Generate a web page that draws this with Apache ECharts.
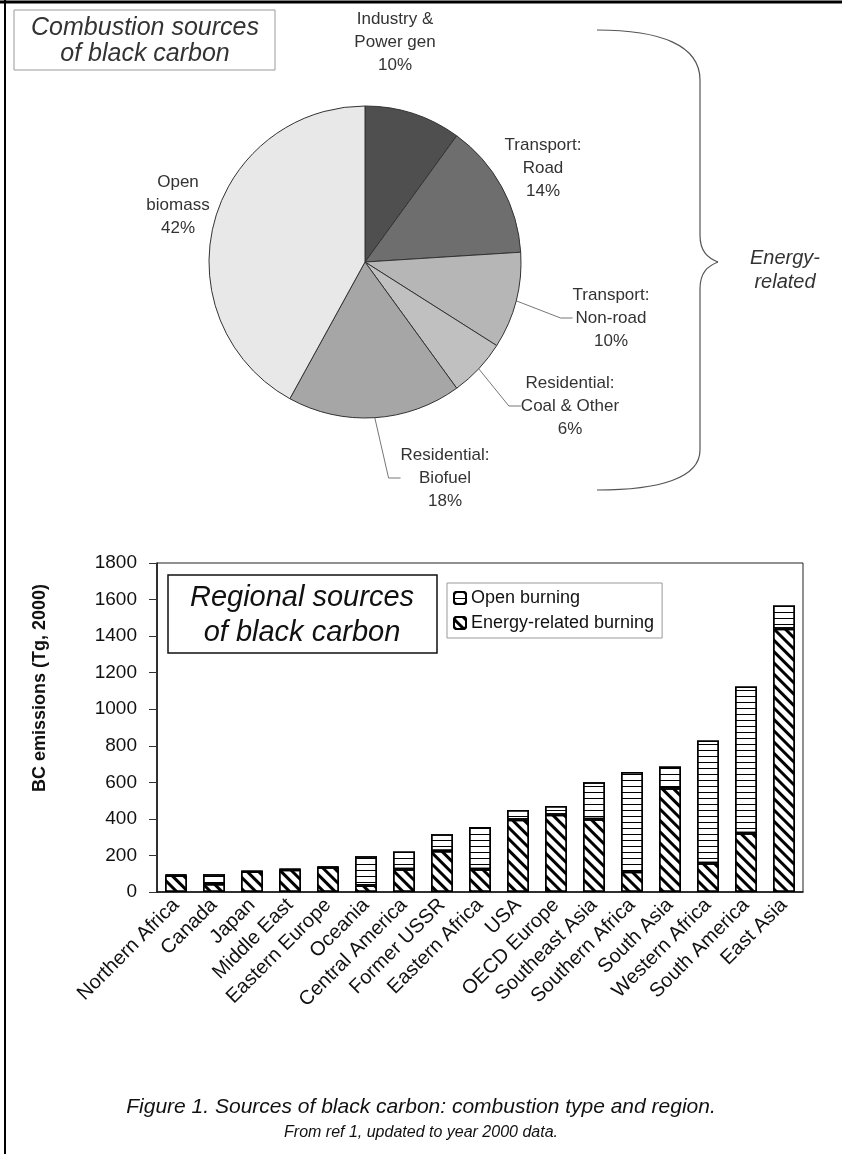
<!DOCTYPE html>
<html>
<head>
<meta charset="utf-8">
<script src="https://cdn.jsdelivr.net/npm/echarts@6/dist/echarts.min.js"></script>
<style>
  html, body { margin: 0; padding: 0; background: #fff; }
  #chart { width: 842px; height: 1154px; }
</style>
</head>
<body>
<div id="chart"></div>
<script>
// pie: combustion sources (percent shares, clockwise from 12 o'clock)
const pieNames = ['Industry &\nPower gen', 'Transport:\nRoad', 'Transport:\nNon-road', 'Residential:\nCoal & Other', 'Residential:\nBiofuel', 'Open\nbiomass'];
const pieShares = [10, 14, 10, 6, 18, 42];

// bars: regional sources
const regions = ['Northern Africa', 'Canada', 'Japan', 'Middle East', 'Eastern Europe', 'Oceania', 'Central America', 'Former USSR', 'Eastern Africa', 'USA', 'OECD Europe', 'Southeast Asia', 'Southern Africa', 'South Asia', 'Western Africa', 'South America', 'East Asia'];
const energyBurning = [90, 44, 112, 122, 135, 35, 124, 225, 124, 395, 422, 398, 111, 568, 157, 321, 1440];
const openBurning = [5, 53, 3, 4, 4, 160, 97, 91, 231, 54, 49, 203, 545, 119, 672, 804, 127];
const yMin = 0, yMax = 1800, yStep = 200;

const FONT = 'Liberation Sans, Arial, sans-serif';
const pieColors = ['#4f4f4f', '#6e6e6e', '#b6b6b6', '#c0c0c0', '#a6a6a6', '#e8e8e8'];
const pieLabelPos = [[395, 42], [543, 168], [611, 318], [570, 406], [445, 478], [178, 205]];
const pieLeader = [false, false, true, true, true, false];

const chart = echarts.init(document.getElementById('chart'), null, { renderer: 'canvas' });

// "\\\\" hatching for energy-related, thin horizontal rules for open burning
const hatch = {
  symbol: 'rect', symbolSize: 1, color: '#000',
  dashArrayX: [1, 0], dashArrayY: [3, 5], rotation: Math.PI / 4
};
const stripes = {
  symbol: 'rect', symbolSize: 1, color: '#000',
  dashArrayX: [1, 0], dashArrayY: [1, 5], rotation: 0
};

const braceStyle = { fill: 'none', stroke: '#555', lineWidth: 1.2 };

chart.setOption({
  animation: false,
  backgroundColor: '#fff',
  textStyle: { fontFamily: FONT },
  grid: {
    left: 157, right: 39, top: 563, bottom: 262,
    show: true, borderColor: '#222', borderWidth: 1, backgroundColor: 'transparent'
  },
  legend: {
    data: ['Open burning', 'Energy-related burning'],
    orient: 'vertical',
    left: 447, top: 583,
    padding: [6, 8, 6, 6],
    itemGap: 7, itemWidth: 12, itemHeight: 12,
    borderColor: '#999', borderWidth: 1,
    textStyle: { fontSize: 18, color: '#111', fontFamily: FONT },
    selectedMode: false
  },
  xAxis: {
    type: 'category',
    data: regions,
    axisLine: { lineStyle: { color: '#111', width: 1.5 } },
    axisTick: { length: 6, lineStyle: { color: '#333' } },
    axisLabel: { rotate: 45, fontSize: 20, color: '#111', margin: 10, interval: 0 }
  },
  yAxis: {
    type: 'value',
    min: yMin, max: yMax, interval: yStep,
    axisLine: { show: true, lineStyle: { color: '#111', width: 1.5 } },
    axisTick: { show: true, length: 8, lineStyle: { color: '#333' } },
    axisLabel: { fontSize: 19, color: '#111', margin: 20, formatter: (v) => String(v) },
    splitLine: { show: false }
  },
  series: [
    {
      name: 'Energy-related burning',
      type: 'bar', stack: 'bc', barWidth: 22,
      data: energyBurning,
      itemStyle: { color: '#fff', borderColor: '#000', borderWidth: 1.5, decal: hatch }
    },
    {
      name: 'Open burning',
      type: 'bar', stack: 'bc', barWidth: 22,
      data: openBurning,
      itemStyle: { color: '#fff', borderColor: '#000', borderWidth: 1.5, decal: stripes }
    },
    {
      name: 'Combustion sources',
      type: 'pie',
      center: [365, 262], radius: 156,
      startAngle: 90, clockwise: true,
      data: pieNames.map((n, i) => ({
        name: n, value: pieShares[i],
        itemStyle: { color: pieColors[i] },
        labelLine: { show: pieLeader[i] }
      })),
      itemStyle: { borderColor: '#333', borderWidth: 1 },
      label: {
        position: 'outside', formatter: '{b}\n{c}%',
        fontSize: 17, lineHeight: 23, color: '#333', align: 'center'
      },
      labelLine: { length: 12, length2: 12, lineStyle: { color: '#777', width: 1 } },
      labelLayout: (p) => ({
        x: pieLabelPos[p.dataIndex][0], y: pieLabelPos[p.dataIndex][1],
        align: 'center', verticalAlign: 'middle'
      }),
      emphasis: { disabled: true }
    }
  ],
  graphic: [
    // page frame
    { type: 'line', shape: { x1: 0, y1: 2, x2: 842, y2: 2 }, style: { stroke: '#000', lineWidth: 3 } },
    { type: 'line', shape: { x1: 5, y1: 0, x2: 5, y2: 1154 }, style: { stroke: '#000', lineWidth: 2 } },
    // pie title box
    { type: 'rect', shape: { x: 14, y: 10, width: 261, height: 60 }, style: { fill: '#fff', stroke: '#999', lineWidth: 1 } },
    { type: 'text', x: 145, y: 28, style: { text: 'Combustion sources', font: 'italic 25px ' + FONT, fill: '#333', align: 'center', verticalAlign: 'middle' } },
    { type: 'text', x: 145, y: 54, style: { text: 'of black carbon', font: 'italic 25px ' + FONT, fill: '#333', align: 'center', verticalAlign: 'middle' } },
    // brace for energy-related slices
    { type: 'bezierCurve', shape: { x1: 597, y1: 30, cpx1: 660, cpy1: 30, cpx2: 700, cpy2: 45, x2: 700, y2: 80 }, style: braceStyle },
    { type: 'line', shape: { x1: 700, y1: 80, x2: 700, y2: 235 }, style: braceStyle },
    { type: 'bezierCurve', shape: { x1: 700, y1: 235, cpx1: 700, cpy1: 252, cpx2: 708, cpy2: 258, x2: 718, y2: 262 }, style: braceStyle },
    { type: 'bezierCurve', shape: { x1: 718, y1: 262, cpx1: 708, cpy1: 266, cpx2: 700, cpy2: 272, x2: 700, y2: 289 }, style: braceStyle },
    { type: 'line', shape: { x1: 700, y1: 289, x2: 700, y2: 450 }, style: braceStyle },
    { type: 'bezierCurve', shape: { x1: 700, y1: 450, cpx1: 700, cpy1: 478, cpx2: 660, cpy2: 490, x2: 597, y2: 490 }, style: braceStyle },
    { type: 'text', x: 785, y: 258, style: { text: 'Energy-', font: 'italic 20px ' + FONT, fill: '#333', align: 'center', verticalAlign: 'middle' } },
    { type: 'text', x: 785, y: 282, style: { text: 'related', font: 'italic 20px ' + FONT, fill: '#333', align: 'center', verticalAlign: 'middle' } },
    // bar chart title box
    { type: 'rect', shape: { x: 168, y: 575, width: 269, height: 78 }, style: { fill: '#fff', stroke: '#111', lineWidth: 1.5 } },
    { type: 'text', x: 302, y: 598, style: { text: 'Regional sources', font: 'italic 29px ' + FONT, fill: '#111', align: 'center', verticalAlign: 'middle' } },
    { type: 'text', x: 302, y: 633, style: { text: 'of black carbon', font: 'italic 29px ' + FONT, fill: '#111', align: 'center', verticalAlign: 'middle' } },
    // y axis name
    { type: 'text', x: 40, y: 688, rotation: Math.PI / 2, style: { text: 'BC emissions (Tg, 2000)', font: 'bold 18px ' + FONT, fill: '#111', align: 'center', verticalAlign: 'middle' } },
    // caption
    { type: 'text', x: 421, y: 1107, style: { text: 'Figure 1. Sources of black carbon: combustion type and region.', font: 'italic 21px ' + FONT, fill: '#111', align: 'center', verticalAlign: 'middle' } },
    { type: 'text', x: 421, y: 1133, style: { text: 'From ref 1, updated to year 2000 data.', font: 'italic 16px ' + FONT, fill: '#111', align: 'center', verticalAlign: 'middle' } }
  ]
});
</script>
</body>
</html>
